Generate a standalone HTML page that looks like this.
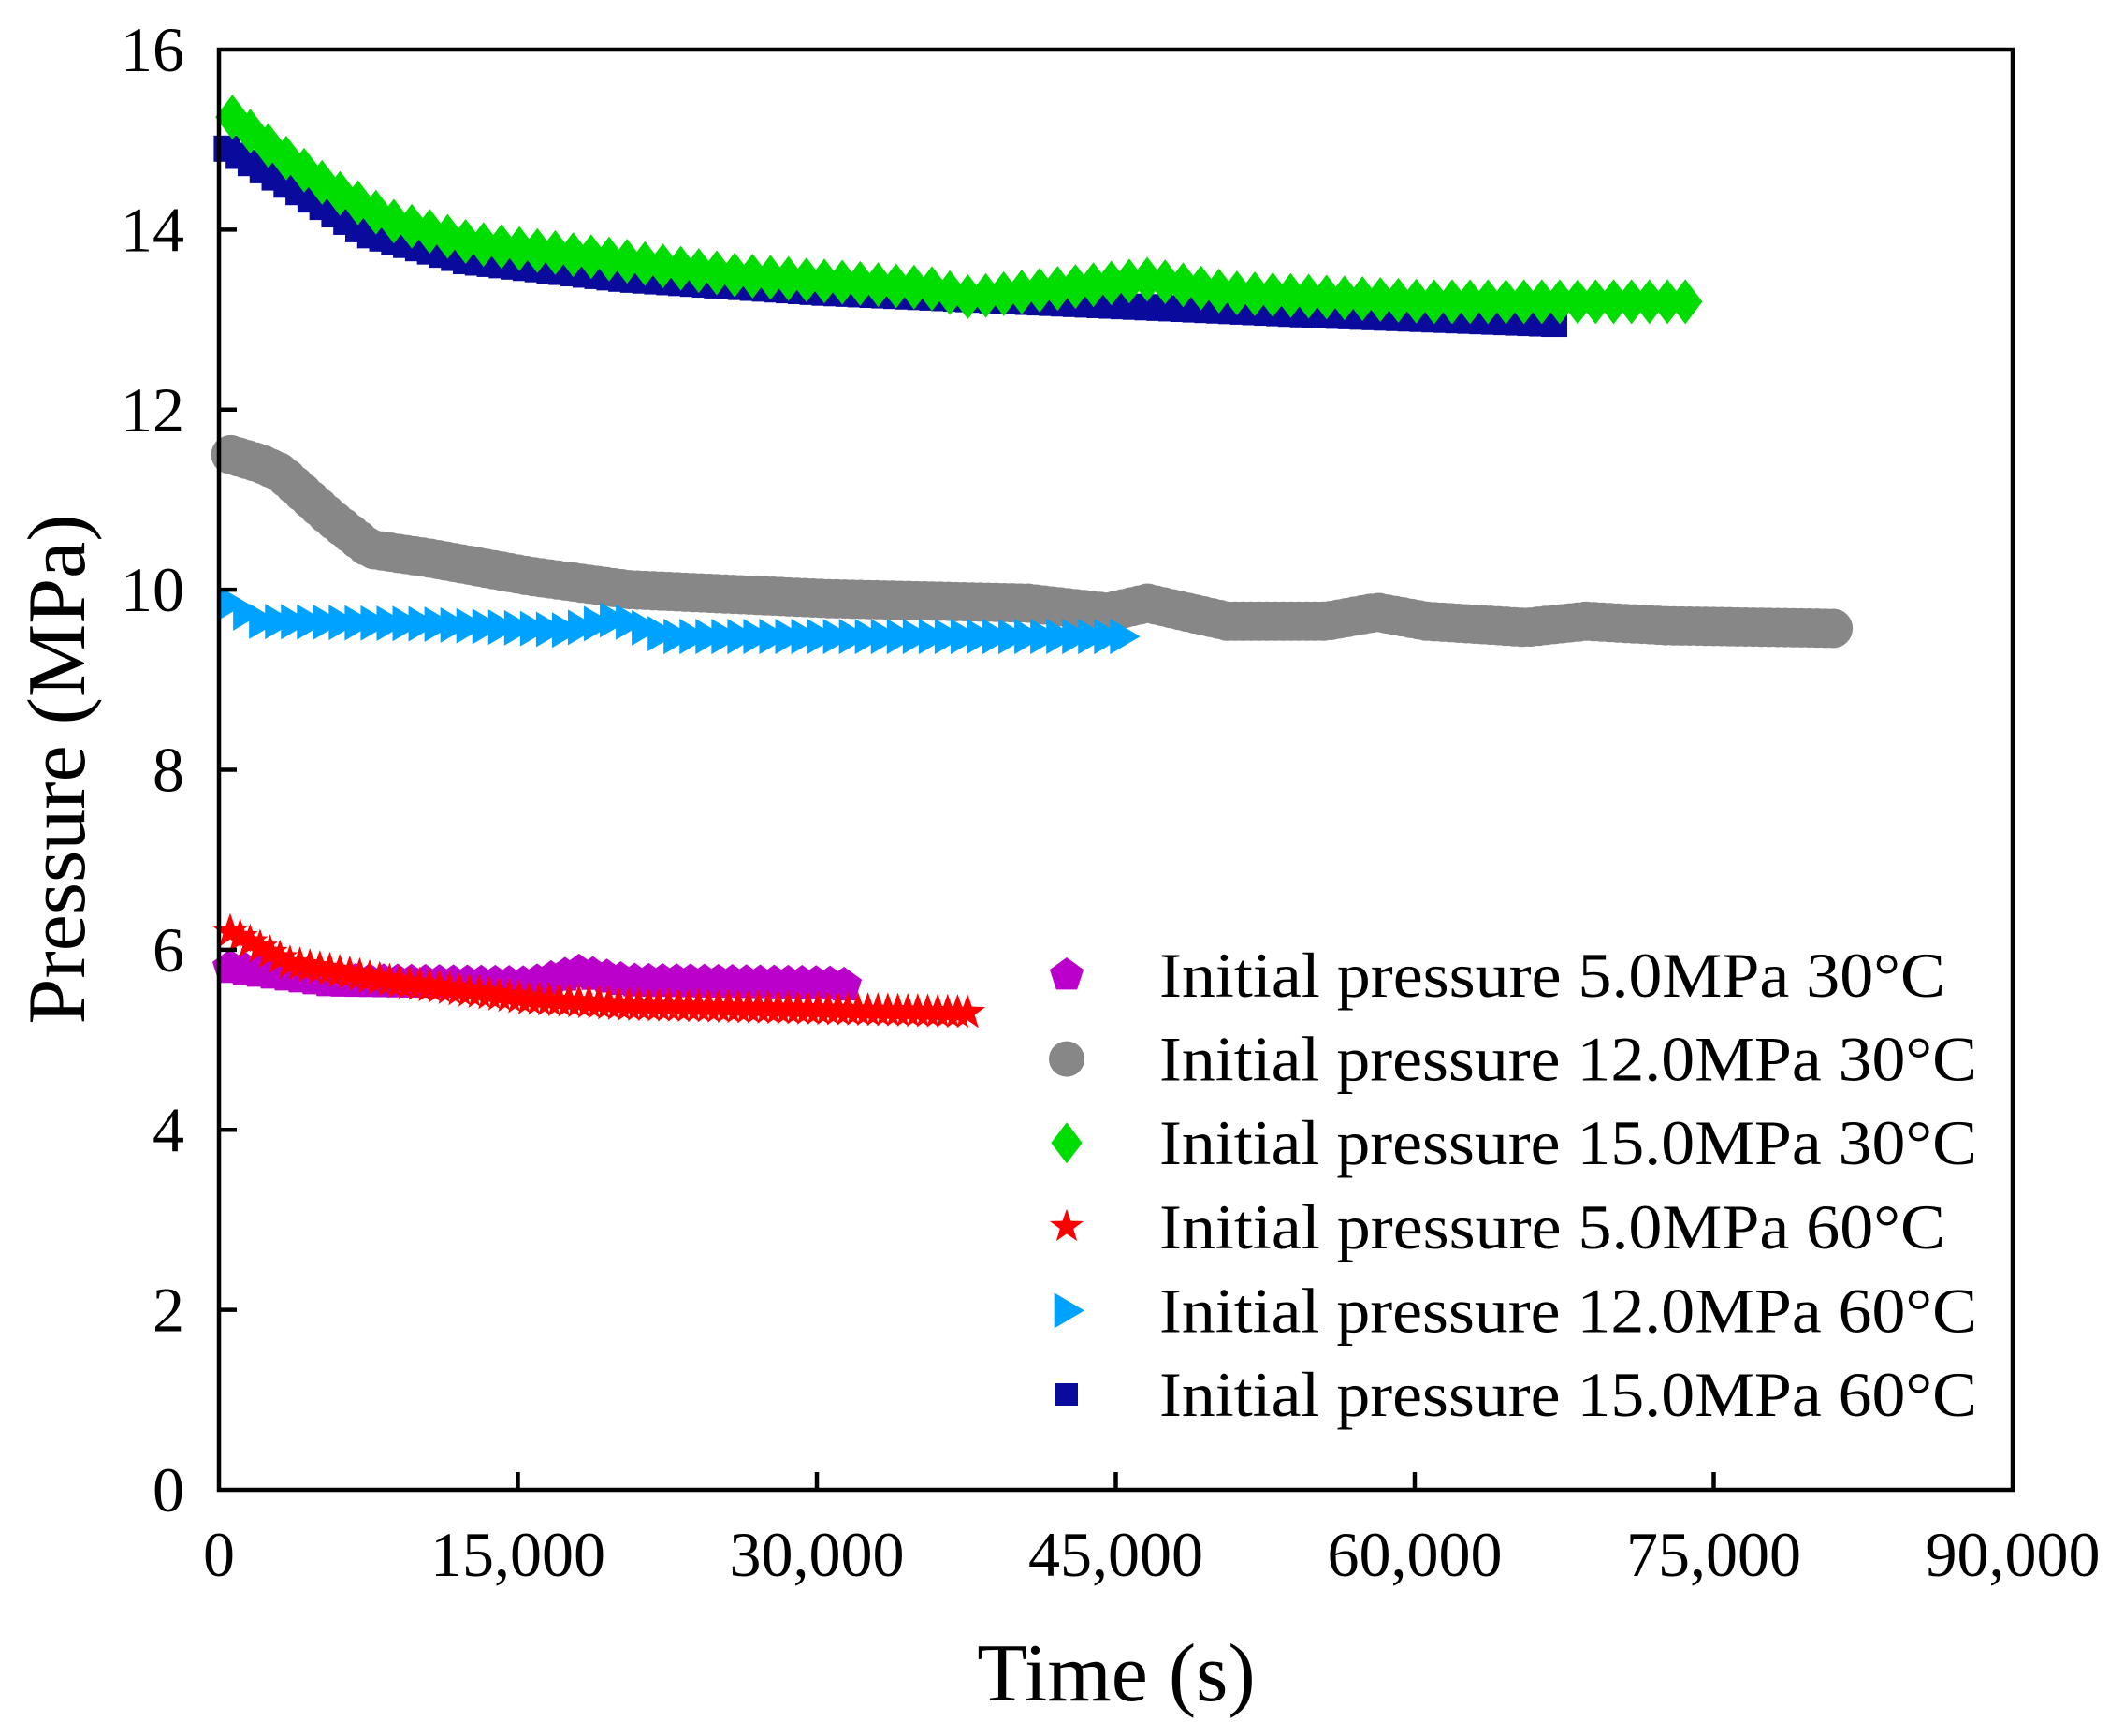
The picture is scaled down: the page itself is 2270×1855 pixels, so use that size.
<!DOCTYPE html>
<html><head><meta charset="utf-8"><style>
html,body{margin:0;padding:0;background:#fff;}
svg{display:block;font-family:"Liberation Serif",serif;}
</style></head><body>
<svg id="s" width="2270" height="1855" viewBox="0 0 2270 1855" xmlns="http://www.w3.org/2000/svg">
<rect width="2270" height="1855" fill="#fff"/>
<g id="data"></g>
<rect x="234" y="53" width="1917" height="1539" fill="none" stroke="#000" stroke-width="4.5"/>
<g id="ticks" stroke="#000" stroke-width="4.5"></g>
<g id="labels" font-size="68" fill="#000"></g>
<text x="1193" y="1817" font-size="88" text-anchor="middle">Time (s)</text>
<text transform="translate(90,822) rotate(-90)" font-size="88" text-anchor="middle">Pressure (MPa)</text>
<g id="legend" font-size="68"></g>
</svg>
<script>
const L=234,R=2151,T=53,B=1592;
const X=v=>L+v*(R-L)/90000, Y=v=>B-v*(B-T)/16;
const ns="http://www.w3.org/2000/svg";
function el(p,tag,a,txt){const e=document.createElementNS(ns,tag);for(const k in a)e.setAttribute(k,a[k]);if(txt)e.textContent=txt;p.appendChild(e);return e;}
const tk=document.getElementById('ticks'),lb=document.getElementById('labels');
for(let i=0;i<=8;i++){const y=Y(i*2);if(i>0&&i<8)el(tk,'line',{x1:L,x2:L+19,y1:y,y2:y});
el(lb,'text',{x:197,y:y+23,'text-anchor':'end'},String(i*2));}
const xl=["0","15,000","30,000","45,000","60,000","75,000","90,000"];
for(let i=0;i<=6;i++){const x=X(i*15000);if(i>0&&i<6)el(tk,'line',{x1:x,x2:x,y1:B,y2:B-19});
el(lb,'text',{x:x,y:1684,'text-anchor':'middle'},xl[i]);}
function interp(k,t){for(let i=0;i<k.length-1;i++){if(t<=k[i+1][0]){const f=(t-k[i][0])/(k[i+1][0]-k[i][0]);return k[i][1]+f*(k[i+1][1]-k[i][1]);}}return k[k.length-1][1];}
function shape(g,type,cx,cy,s,c){
 if(type=='circ')el(g,'circle',{cx,cy,r:s/2,fill:c});
 else if(type=='sq')el(g,'rect',{x:cx-s/2,y:cy-s/2,width:s,height:s,fill:c});
 else{let pts=[];
  if(type=='dia')pts=[[0,-s/2],[s*0.38,0],[0,s/2],[-s*0.38,0]];
  else if(type=='tri')pts=[[-s*0.35,-s/2],[s*0.5,0],[-s*0.35,s/2]];
  else if(type=='pent'){for(let i=0;i<5;i++){const a=-Math.PI/2+i*2*Math.PI/5;pts.push([s/2*Math.cos(a),s/2*Math.sin(a)]);}}
  else if(type=='star'){for(let i=0;i<10;i++){const a=-Math.PI/2+i*Math.PI/5,r=i%2?s*0.2:s/2;pts.push([r*Math.cos(a),r*Math.sin(a)]);}}
  el(g,'polygon',{points:pts.map(p=>(cx+p[0])+','+(cy+p[1])).join(' '),fill:c});}
}
const series=[
 {t:'sq',c:'#0a0a9c',s:28,step:600,end:67000,k:[[0,14.9],[3000,14.5],[7000,13.95],[12000,13.65],[20000,13.45],[30000,13.3],[45000,13.15],[55000,13.05],[67000,12.95]]},
 {t:'dia',c:'#00dd00',s:48,step:900,end:73000,k:[[0,15.25],[2000,14.9],[5000,14.45],[8000,14.1],[12000,13.85],[18000,13.7],[25000,13.5],[35000,13.35],[37000,13.25],[46000,13.45],[50000,13.3],[60000,13.2],[73000,13.2]]},
 {t:'circ',c:'#878787',s:42,step:400,end:80500,k:[[0,11.5],[1500,11.4],[2500,11.3],[5000,10.8],[7000,10.45],[10000,10.35],[15000,10.15],[20000,10.0],[30000,9.9],[40000,9.85],[44000,9.75],[46000,9.85],[50000,9.65],[55000,9.65],[57500,9.75],[60000,9.65],[65000,9.58],[68000,9.65],[72000,9.6],[80500,9.57]]},
 {t:'tri',c:'#00a2ff',s:38,step:800,end:45500,k:[[0,9.85],[1500,9.65],[10000,9.62],[17000,9.55],[19500,9.68],[22000,9.48],[45500,9.48]]},
 {t:'pent',c:'#bb00cc',s:40,step:700,end:31000,k:[[0,5.8],[5000,5.65],[15000,5.62],[17500,5.75],[20000,5.65],[30000,5.62],[31000,5.6]]},
 {t:'star',c:'#ff0000',s:40,step:500,end:37000,k:[[0,6.2],[3000,5.85],[8000,5.65],[15000,5.45],[20000,5.38],[37000,5.3]]}
];
const dg=document.getElementById('data');
series.forEach(S=>{for(let t=0;t<=S.end;t+=S.step)shape(dg,S.t,X(t)+S.s*0.3,Y(interp(S.k,t)),S.s,S.c);});
const lg=document.getElementById('legend');
const names=["Initial pressure 5.0MPa 30°C","Initial pressure 12.0MPa 30°C","Initial pressure 15.0MPa 30°C","Initial pressure 5.0MPa 60°C","Initial pressure 12.0MPa 60°C","Initial pressure 15.0MPa 60°C"];
const tl=[840,874,874,840,874,874];
const lt=['pent','circ','dia','star','tri','sq'],lc=['#bb00cc','#878787','#00dd00','#ff0000','#00a2ff','#0a0a9c'],ls=[38,38,44,38,38,24];
for(let i=0;i<6;i++){const y=1042+i*89.6;shape(lg,lt[i],1140,y,ls[i],lc[i]);el(lg,'text',{x:1239,y:y+23,textLength:tl[i],lengthAdjust:'spacingAndGlyphs'},names[i]);}
</script>
</body></html>
